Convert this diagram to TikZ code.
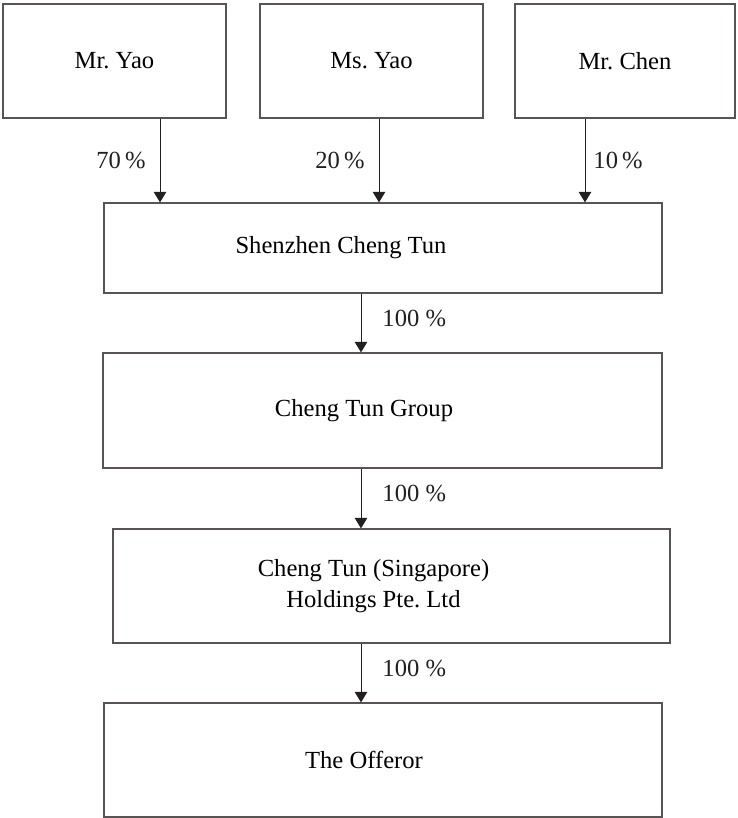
\documentclass[tikz,border=0pt]{standalone}
\usepackage{fontspec}
\setmainfont{Liberation Serif}
\usetikzlibrary{arrows.meta,positioning}
\definecolor{ink}{RGB}{35,31,32}
\definecolor{frame}{RGB}{88,84,84}
\frenchspacing
\begin{document}
\begin{tikzpicture}[x=0.02cm, y=-0.02cm,
    font=\fontsize{14}{18}\selectfont,
    box/.style={draw=frame, line width=0.7pt, minimum height=2.28cm, inner sep=0pt},
    own/.style={draw=ink, line width=0.55pt, -{Triangle[width=0.25cm,length=0.21cm]}},
    pct/.style={text=ink, inner sep=0pt}]
    \useasboundingbox (0,0) rectangle (737,818);
    % Shareholders
    \node[box, minimum width=4.46cm] (yao) at (114.5,61) {Mr. Yao};
    \node[box, minimum width=4.46cm] (msyao) at (371.5,61) {Ms. Yao};
    \node[box, minimum width=4.40cm] (chen) at (625,61) {Mr. Chen};
    % Holding chain
    \node[box, minimum width=11.16cm, minimum height=1.8cm,
        label={[xshift=-0.84cm]center:Shenzhen Cheng Tun}] (szct) at (383,248) {};
    \node[box, minimum width=11.18cm, minimum height=2.3cm,
        label={[xshift=-0.37cm]center:Cheng Tun Group}] (group) at (382.5,410.5) {};
    \node[box, minimum width=11.14cm,
        label={[xshift=-0.36cm, align=center]center:{Cheng Tun (Singapore)\\Holdings Pte. Ltd}}] (spore) at (391.5,586) {};
    \node[box, minimum width=11.16cm,
        label={[xshift=-0.38cm]center:The Offeror}] (offeror) at (383,760) {};
    % Arrow columns
    \coordinate (c1) at (160,0);
    \coordinate (c2) at (379,0);
    \coordinate (c3) at (585,0);
    \coordinate (spine) at (361,0);
    % Shares
    \draw[own] (yao.south -| c1) -- node[pct, left=0.28cm] {70\,\%} (szct.north -| c1);
    \draw[own] (msyao.south -| c2) -- node[pct, left=0.28cm] {20\,\%} (szct.north -| c2);
    \draw[own] (chen.south -| c3) -- node[pct, right=0.16cm] {10\,\%} (szct.north -| c3);
    \draw[own] (szct.south -| spine) -- node[pct, pos=0.42, right=0.42cm] {100 \%} (group.north -| spine);
    \draw[own] (group.south -| spine) -- node[pct, pos=0.42, right=0.42cm] {100 \%} (spore.north -| spine);
    \draw[own] (spore.south -| spine) -- node[pct, pos=0.42, right=0.42cm] {100 \%} (offeror.north -| spine);
\end{tikzpicture}
\end{document}
